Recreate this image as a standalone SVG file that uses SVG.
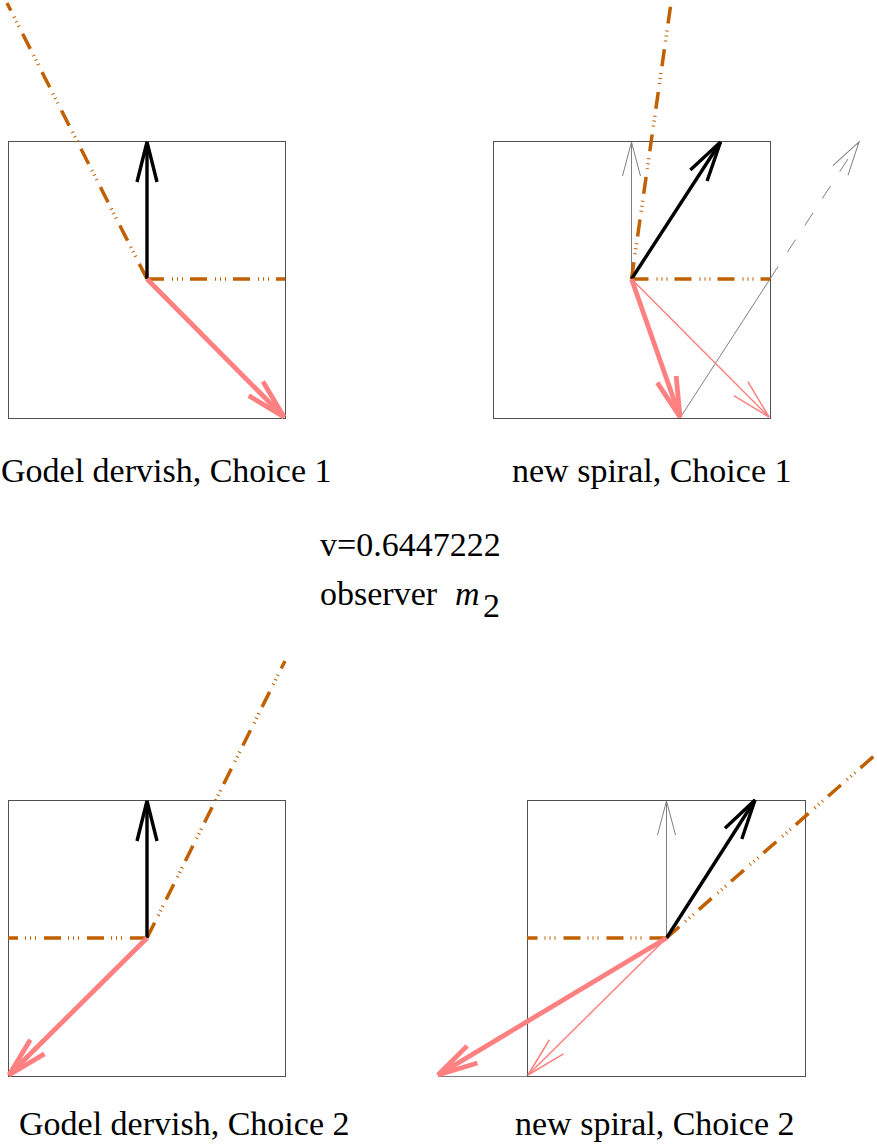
<svg xmlns="http://www.w3.org/2000/svg" width="877" height="1144" viewBox="0 0 877 1144">
<style>
.box{fill:none;stroke:#505050;stroke-width:1}
.orn{fill:none;stroke:#c06000;stroke-width:3.5;stroke-dasharray:17 8 1 4 1 4 1 7}
.blk{fill:none;stroke:#000;stroke-width:3.4;marker-end:url(#hBlk)}
.pk{fill:none;stroke:#ff8080;stroke-width:4.8;marker-end:url(#hPk)}
.pkt{fill:none;stroke:#ff8080;stroke-width:1.5;marker-end:url(#hPkt)}
.gr{fill:none;stroke:#808080;stroke-width:1}
.gra{fill:none;stroke:#808080;stroke-width:1;marker-end:url(#hGr)}
.grd{stroke-dasharray:15 17}
text{font-family:"Liberation Serif","Times New Roman",serif;font-size:34px;fill:#000}
</style>
<defs>
<marker id="hBlk" markerUnits="userSpaceOnUse" orient="auto" refX="0" refY="0" markerWidth="1" markerHeight="1" overflow="visible"><path d="M-40,-10 L0,0 L-40,10" fill="none" stroke="#000" stroke-width="3.4"/></marker>
<marker id="hPk" markerUnits="userSpaceOnUse" orient="auto" refX="0" refY="0" markerWidth="1" markerHeight="1" overflow="visible"><path d="M-40,-10 L0,0 L-40,10" fill="none" stroke="#ff8080" stroke-width="4.8"/></marker>
<marker id="hPkt" markerUnits="userSpaceOnUse" orient="auto" refX="0" refY="0" markerWidth="1" markerHeight="1" overflow="visible"><path d="M-40,-10 L0,0 L-40,10" fill="none" stroke="#ff8080" stroke-width="1.5"/></marker>
<marker id="hGr" markerUnits="userSpaceOnUse" orient="auto" refX="0" refY="0" markerWidth="1" markerHeight="1" overflow="visible"><path d="M-34,-9 L0,0 L-34,9" fill="none" stroke="#808080" stroke-width="1"/></marker>
</defs>

<g id="panel-godel-1">
<rect class="box" x="8.5" y="141.5" width="277" height="277"/>
<path class="orn" d="M147,279 L285,279"/>
<path class="orn" d="M147,279 L7,3"/>
<path class="blk" d="M147,279 L147,142"/>
<path class="pk" d="M147,279 L284,417"/>
</g>

<g id="panel-spiral-1">
<rect class="box" x="493.5" y="141.5" width="277" height="277"/>
<path class="gra" d="M631.5,279 L631.5,142"/>
<path class="gr" d="M680,418 L770,279"/>
<path class="gra grd" d="M770,279 L859,142"/>
<path class="orn" d="M631.5,279 L770,279"/>
<path class="orn" d="M631.5,279 L671,3"/>
<path class="blk" d="M631.5,279 L720.5,142"/>
<path class="pk" d="M631.5,279 L680,417"/>
<path class="pkt" d="M631.5,279 L769,417"/>
</g>

<g id="panel-godel-2">
<rect class="box" x="8.5" y="800.5" width="277" height="276"/>
<path class="orn" d="M147,938 L8,938"/>
<path class="orn" d="M147,938 L285,661"/>
<path class="blk" d="M147,938 L147,801"/>
<path class="pk" d="M147,938 L9,1075"/>
</g>

<g id="panel-spiral-2">
<rect class="box" x="527.5" y="800.5" width="278" height="276"/>
<path class="gra" d="M666.5,938 L666.5,801"/>
<path class="gr" d="M438,1076.5 L527,1076.5"/>
<path class="orn" d="M666.5,938 L527,938"/>
<path class="orn" d="M666.5,938 L874,756"/>
<path class="blk" d="M666.5,938 L755,800"/>
<path class="pk" d="M666.5,938 L438,1075"/>
<path class="pkt" d="M666.5,938 L528,1075"/>
</g>

<g id="labels">
<text x="1" y="482">Godel dervish, Choice 1</text>
<text x="512" y="482">new spiral, Choice 1</text>
<text x="320" y="556">v=0.6447222</text>
<text x="320" y="605">observer</text>
<text x="455" y="605" font-style="italic">m</text>
<text x="483" y="617" font-size="23">2</text>
<text x="19" y="1135">Godel dervish, Choice 2</text>
<text x="515" y="1135">new spiral, Choice 2</text>
</g>
</svg>
